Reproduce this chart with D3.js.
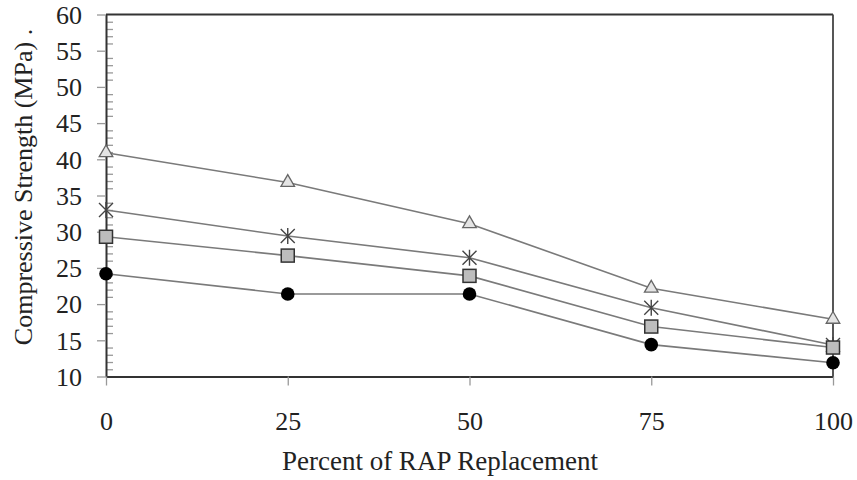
<!DOCTYPE html>
<html><head><meta charset="utf-8">
<script src="https://cdn.jsdelivr.net/npm/d3@7"></script>
<style>body{margin:0;background:#fff}svg{display:block}text{font-family:"Liberation Serif","Times New Roman",serif;fill:#222}</style>
</head><body><svg id="c" width="857" height="480"></svg>
<script>
const xValues = [0, 25, 50, 75, 100];
const seriesTriangle = [40.9, 36.8, 31.1, 22.2, 17.9];
const seriesStar = [33.0, 29.4, 26.4, 19.5, 14.35];
const seriesSquare = [29.3, 26.7, 23.9, 16.9, 14.0];
const seriesCircle = [24.2, 21.4, 21.4, 14.4, 11.9];
const yTicks = [10, 15, 20, 25, 30, 35, 40, 45, 50, 55, 60];
const xTicks = [0, 25, 50, 75, 100];
const xTitle = "Percent of RAP Replacement";
const yTitle = "Compressive Strength (MPa) .";

const svg = d3.select("#c");
const x = d3.scaleLinear().domain([0, 100]).range([106, 833]);
const y = d3.scaleLinear().domain([10, 60]).range([376.5, 14.5]);
const FS = 26;

// minor ticks inside
const minor = d3.range(11, 60, 1).filter(v => v % 5 !== 0);
const gMinor = svg.append("g").attr("transform", `translate(${x(0)},0)`)
  .call(d3.axisRight(y).tickValues(minor).tickSize(7).tickFormat(""));
gMinor.select(".domain").remove();
gMinor.selectAll("line").attr("stroke", "#999").attr("stroke-width", 1.3);

// y axis
const gy = svg.append("g").attr("transform", `translate(${x(0)},0)`)
  .call(d3.axisLeft(y).tickValues(yTicks).tickSize(9).tickPadding(15).tickSizeOuter(0));
gy.select(".domain").attr("stroke", "#333").attr("stroke-width", 2);
gy.selectAll(".tick line").attr("stroke", "#999").attr("stroke-width", 1.3);
gy.selectAll("text").style("font-size", FS + "px").attr("fill", "#222").attr("x", -24).attr("dy", "0.34em").attr("text-anchor", "end");

// x axis
const gx = svg.append("g").attr("transform", `translate(0,${y(10)})`)
  .call(d3.axisBottom(x).tickValues(xTicks).tickSize(9).tickSizeOuter(0));
gx.select(".domain").attr("stroke", "#333").attr("stroke-width", 2);
gx.selectAll(".tick line").attr("stroke", "#999").attr("stroke-width", 1.3);
gx.selectAll("text").style("font-size", FS + "px").attr("fill", "#222").attr("y", 53.5).attr("dy", 0);

// frame top & right
svg.append("line").attr("x1", x(0)).attr("x2", x(100)).attr("y1", y(60)).attr("y2", y(60))
  .attr("stroke", "#333").attr("stroke-width", 1.8);
svg.append("line").attr("x1", x(100)).attr("x2", x(100)).attr("y1", y(60)).attr("y2", y(10))
  .attr("stroke", "#444").attr("stroke-width", 1.8);

// titles
svg.append("text").attr("x", 440).attr("y", 470).attr("text-anchor", "middle")
  .style("font-size", "27px").text(xTitle);
svg.append("text").attr("transform", `translate(32,${187}) rotate(-90)`).attr("text-anchor", "middle")
  .style("font-size", FS + "px").text(yTitle);

// lines
const line = d3.line().x((d, i) => x(xValues[i])).y(d => y(d));
const all = [
  {vals: seriesTriangle, m: "tri"},
  {vals: seriesStar, m: "star"},
  {vals: seriesSquare, m: "sq"},
  {vals: seriesCircle, m: "circ"}
];
all.forEach(s => {
  svg.append("path").datum(s.vals).attr("d", line).attr("fill", "none")
    .attr("stroke", "#7a7a7a").attr("stroke-width", 1.6);
});
// markers
all.forEach(s => {
  const g = svg.append("g");
  s.vals.forEach((v, i) => {
    const cx = x(xValues[i]), cy = y(v);
    if (s.m === "tri") {
      g.append("path").attr("d", d3.symbol().type(d3.symbolTriangle).size(80)())
        .attr("transform", `translate(${cx},${cy})`).attr("fill", "#e4e4e4").attr("stroke", "#666").attr("stroke-width", 1.3);
    } else if (s.m === "star") {
      const r = 7;
      const p = `M${-r},${-r}L${r},${r}M${-r},${r}L${r},${-r}M0,${-r-1}L0,${r+1}`;
      g.append("path").attr("d", p).attr("transform", `translate(${cx},${cy})`)
        .attr("stroke", "#444").attr("stroke-width", 1.4).attr("fill", "none");
    } else if (s.m === "sq") {
      g.append("rect").attr("x", cx - 6.5).attr("y", cy - 6.5).attr("width", 13).attr("height", 13)
        .attr("fill", "#bdbdbd").attr("stroke", "#333").attr("stroke-width", 1.5);
    } else {
      g.append("circle").attr("cx", cx).attr("cy", cy).attr("r", 6.8).attr("fill", "#000");
    }
  });
});
</script></body></html>
